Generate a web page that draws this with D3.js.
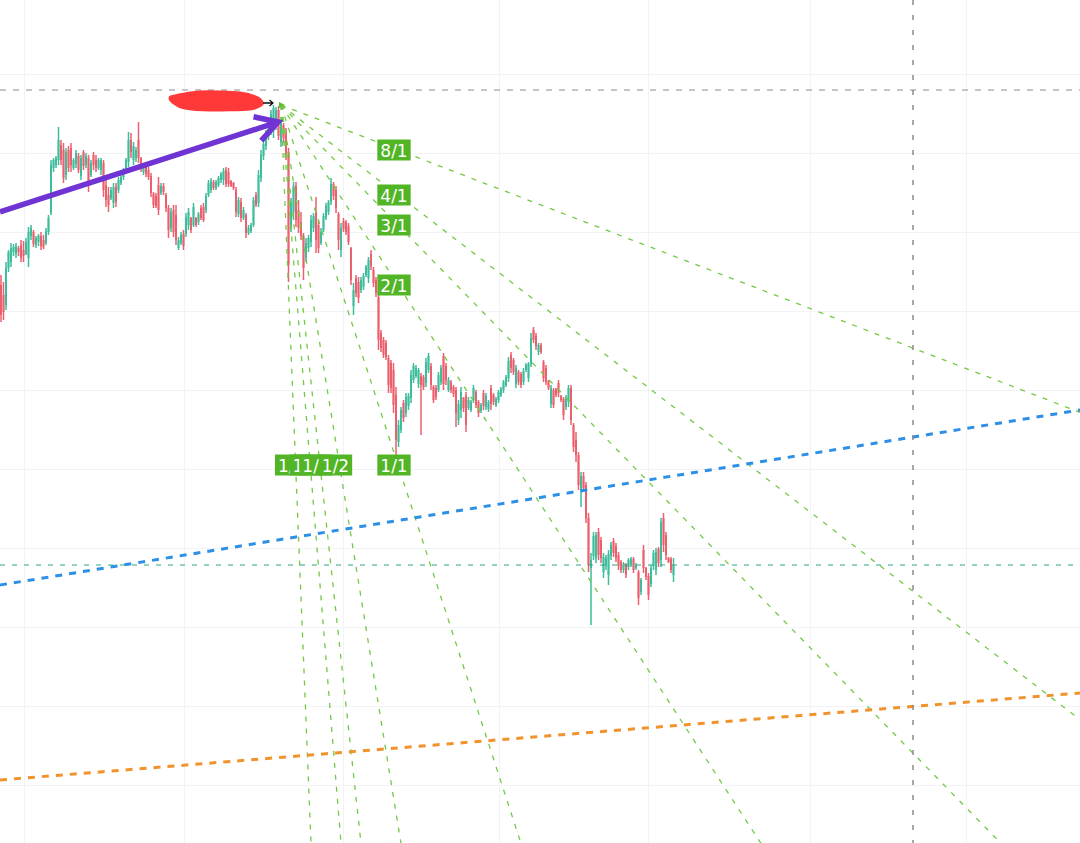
<!DOCTYPE html>
<html><head><meta charset="utf-8">
<script src="https://cdn.jsdelivr.net/npm/d3@7"></script>
<style>html,body{margin:0;padding:0;background:#fff;overflow:hidden}</style>
</head><body>
<svg id="chart" width="1080" height="843"></svg>
<script>
// ---- candle data (price units) ----
const opens = [715,705,695,732,738,748,746,752,755,750,746,742,764,768,755,758,764,760,757,768,
787,832,835,840,855,850,825,850,852,832,836,844,824,848,835,842,825,845,840,832,
830,837,815,805,802,797,813,810,817,823,832,838,860,840,842,860,842,828,833,830,
824,806,804,815,807,814,805,792,772,790,785,752,757,766,766,775,782,775,782,778,
792,793,790,805,810,818,812,815,820,820,830,828,819,817,810,786,798,782,785,767,
769,775,805,797,822,844,854,864,872,870,875,890,858,875,868,848,772,788,814,790,
778,764,742,752,758,772,788,775,757,770,782,788,798,816,810,786,750,779,778,774,
752,694,722,718,710,713,725,722,746,730,720,703,667,660,657,642,637,630,605,558,
570,597,587,594,602,620,624,616,624,623,617,630,634,613,612,610,618,644,634,610,
618,613,610,580,590,602,604,592,590,600,608,598,589,607,593,591,612,605,595,600,
605,610,615,622,645,640,616,628,626,618,630,622,636,670,664,648,655,638,632,619,
596,610,611,617,604,601,593,598,612,575,560,545,510,524,515,482,432,444,442,468,
460,428,434,425,444,459,454,445,438,430,435,433,435,441,432,428,408,450,432,424,
416,434,430,451,440,482,465,442,441,425];
const highs = [725,718,738,750,757,756,757,754,760,759,762,773,775,770,764,766,768,765,772,785,
840,842,844,873,860,857,852,854,857,842,850,847,845,850,847,845,840,848,845,842,
842,840,820,813,813,817,817,823,825,832,842,868,867,858,853,878,843,834,835,833,
827,808,807,823,817,817,807,795,792,795,795,763,768,770,787,792,783,797,783,788,
795,797,807,820,822,820,820,824,828,832,833,832,820,818,813,803,802,793,787,775,
777,803,808,830,850,860,870,882,890,895,893,894,883,877,872,852,802,818,818,800,
788,767,762,765,785,787,803,780,772,787,797,800,822,818,814,788,777,782,780,777,
753,717,725,723,723,727,735,743,750,733,723,705,670,663,660,645,640,637,613,580,
593,600,607,607,630,637,635,632,627,625,642,647,637,615,615,628,635,647,637,623,
620,615,613,600,613,603,608,603,600,615,610,600,597,610,607,600,615,607,603,610,
613,620,625,643,648,642,635,630,628,632,637,638,667,673,667,657,657,640,635,620,
615,612,612,620,605,603,605,615,615,577,568,548,528,528,518,487,447,468,468,472,
463,447,445,450,458,462,457,448,440,438,437,442,443,443,437,430,422,455,433,427,
435,450,452,453,482,487,468,443,443,442];
const lows = [678,680,690,728,733,744,742,744,738,738,745,733,760,753,752,754,750,751,755,765,
785,828,832,835,835,817,820,828,828,830,832,827,820,830,832,808,823,830,828,830,
825,803,793,788,800,792,793,807,815,820,830,833,842,835,838,837,828,825,823,820,
803,792,792,785,805,805,788,762,768,763,755,750,755,750,763,770,767,773,773,775,
780,778,787,803,807,810,810,813,817,815,813,813,813,810,783,783,778,780,762,765,
767,773,793,793,818,840,850,860,865,862,870,860,853,857,840,718,768,780,773,767,
760,720,738,748,753,768,747,747,755,768,780,785,795,800,787,750,743,768,765,755,
715,685,703,697,707,710,723,717,730,713,703,650,648,642,640,607,607,587,543,553,
567,578,583,590,597,617,622,612,565,610,613,627,610,597,600,608,615,610,615,608,
607,603,573,575,582,588,568,590,588,597,592,583,587,590,590,588,590,595,593,597,
603,607,613,618,627,625,612,615,612,615,628,618,633,657,650,645,646,618,615,610,
592,592,603,603,598,580,590,593,575,548,538,510,493,508,477,428,375,440,437,440,
437,422,430,415,440,443,438,430,427,427,422,430,433,427,430,395,405,427,420,400,
413,430,425,433,433,448,440,437,427,418];
const closes = [685,688,732,748,752,753,754,748,742,744,758,768,772,756,762,764,754,753,769,782,
835,840,842,860,840,822,848,832,835,840,847,830,842,834,844,815,837,835,832,840,
840,810,800,795,810,813,798,820,823,830,840,860,848,854,850,842,832,832,826,823,
807,795,794,790,814,808,792,770,788,768,760,760,765,754,783,788,770,793,775,786,
782,780,804,817,819,812,818,822,826,829,816,816,814,812,788,800,782,790,767,772,
775,800,795,825,845,856,866,878,886,892,890,864,878,862,845,735,798,814,780,772,
764,732,757,762,780,784,760,752,768,784,794,798,816,804,792,760,772,771,768,758,
720,710,707,702,720,724,733,740,734,717,707,660,652,645,643,615,612,595,560,575,
590,582,603,604,625,634,632,630,615,613,638,644,615,600,603,625,632,616,620,620,
610,606,587,596,608,592,575,600,598,612,595,587,595,594,604,598,596,598,601,608,
611,618,623,639,632,628,632,618,615,629,635,636,662,660,654,655,648,622,618,612,
612,595,605,607,600,585,602,612,580,553,545,515,524,512,482,435,440,464,465,445,
442,443,442,446,455,447,442,434,430,436,425,440,441,430,435,402,420,432,423,405,
432,447,448,437,478,455,445,438,430,435];

// ---- chart furniture (data coordinates: bar index / price) ----
const gridTimeIdx = [9.2, 73.2, 136.8, 199.2, 258.8, 323.6, 386];
const gridPrices = [926, 847, 768, 689, 610, 531, 452, 373, 294, 215];
const fanOrigin = {i: 112, p: 895};
const fanAnchor = {i: 158.8, p: 535};
const fanLabels = ["1/8", "1/4", "1/3", "1/2", "1/1", "2/1", "3/1", "4/1", "8/1"];
const blueLine = [{i: -0.4, p: 415}, {i: 431.6, p: 590}];
const orangeLine = [{i: -0.4, p: 220}, {i: 431.6, p: 307}];
const purpleArrow = [{i: -0.4, p: 788}, {i: 110.8, p: 878}];
const highLevel = 910;
const timeMarker = 364.8;
const scribble = [{i:68,p:903},{i:79.6,p:908},{i:95.6,p:907},{i:102.8,p:902},{i:104.4,p:896},
                  {i:99.6,p:891},{i:83.6,p:890},{i:73.6,p:892},{i:69.2,p:897}];
const smallArrow = [{i: 104.8, p: 897}, {i: 108.8, p: 897}];

const W = 1080, H = 843;
const x = d3.scaleLinear().domain([0, 431.6]).range([1, 1080]);
const y = d3.scaleLinear().domain([157, 1000]).range([843, 0]);

const svg = d3.select("#chart");
svg.append("defs").append("clipPath").attr("id", "clip")
  .append("rect").attr("width", W).attr("height", H);
const g = svg.append("g").attr("clip-path", "url(#clip)");

// grid
g.append("g").selectAll("line").data(gridTimeIdx).join("line")
  .attr("x1", d => Math.round(x(d)) + 0.5).attr("x2", d => Math.round(x(d)) + 0.5)
  .attr("y1", 0).attr("y2", H).attr("stroke", "#f2f3f6").attr("stroke-width", 1);
g.append("g").selectAll("line").data(gridPrices).join("line")
  .attr("y1", d => Math.round(y(d)) + 0.5).attr("y2", d => Math.round(y(d)) + 0.5)
  .attr("x1", 0).attr("x2", W).attr("stroke", "#f2f3f6").attr("stroke-width", 1);

// candles
const upC = "#3dbd9b", dnC = "#ec5f6c";
const candles = opens.map((o, i) => ({i, o, h: highs[i], l: lows[i], c: closes[i]}));
const cg = g.append("g");
cg.selectAll("line").data(candles).join("line")
  .attr("x1", d => x(d.i)).attr("x2", d => x(d.i))
  .attr("y1", d => y(d.h)).attr("y2", d => y(d.l))
  .attr("stroke", d => d.c >= d.o ? upC : dnC).attr("stroke-width", 1.5);
cg.selectAll("rect").data(candles).join("rect")
  .attr("x", d => x(d.i) - 1).attr("width", 2)
  .attr("y", d => y(Math.max(d.o, d.c)))
  .attr("height", d => Math.max(1, Math.abs(y(d.o) - y(d.c))))
  .attr("fill", d => d.c >= d.o ? upC : dnC);

// gann fan
function fanPoint(lbl) {
  const [a, b] = lbl.split("/").map(Number);
  const dI = fanAnchor.i - fanOrigin.i, dP = fanAnchor.p - fanOrigin.p;
  if (a >= b) return {i: fanOrigin.i + dI, p: fanOrigin.p + dP * b / a};
  return {i: fanOrigin.i + dI * a / b, p: fanOrigin.p + dP};
}
const fanG = g.append("g");
fanLabels.forEach(lbl => {
  const pt = fanPoint(lbl);
  const k = 40;
  fanG.append("line")
    .attr("x1", x(fanOrigin.i)).attr("y1", y(fanOrigin.p))
    .attr("x2", x(fanOrigin.i + (pt.i - fanOrigin.i) * k))
    .attr("y2", y(fanOrigin.p + (pt.p - fanOrigin.p) * k))
    .attr("stroke", "#72c945").attr("stroke-width", 1.3)
    .attr("stroke-dasharray", "5,7");
});

// trend lines
const lineGen = d3.line().x(d => x(d.i)).y(d => y(d.p));
g.append("path").datum(blueLine).attr("d", lineGen).attr("fill", "none")
  .attr("stroke", "#2d8fe5").attr("stroke-width", 3).attr("stroke-dasharray", "7,7");
g.append("path").datum(orangeLine).attr("d", lineGen).attr("fill", "none")
  .attr("stroke", "#f0932b").attr("stroke-width", 3).attr("stroke-dasharray", "7,7");

// last price line
g.append("line").attr("x1", 0).attr("x2", W)
  .attr("y1", y(closes[closes.length - 1])).attr("y2", y(closes[closes.length - 1]))
  .attr("stroke", "#2aa588").attr("stroke-width", 1.1).attr("stroke-dasharray", "5,7");

// dashed gray marker lines
g.append("line").attr("x1", 0).attr("x2", W).attr("y1", y(highLevel)).attr("y2", y(highLevel))
  .attr("stroke", "#8c8c8c").attr("stroke-width", 1.2).attr("stroke-dasharray", "6,7");
g.append("line").attr("x1", x(timeMarker)).attr("x2", x(timeMarker)).attr("y1", 0).attr("y2", H)
  .attr("stroke", "#8c8c8c").attr("stroke-width", 1.5).attr("stroke-dasharray", "5,10");

// fan labels (drawn so that 1/2 lies over 1/3, 1/4, 1/8, as in the reference)
const labG = g.append("g");
fanLabels.forEach(lbl => {
  const pt = fanPoint(lbl);
  const cx = x(pt.i) - 4, cy = y(pt.p);
  const gg = labG.append("g");
  const rect = gg.append("rect").attr("fill", "#52b526");
  const t = gg.append("text").attr("x", cx).attr("y", cy + 0.5)
    .attr("text-anchor", "middle").attr("dominant-baseline", "central")
    .attr("font-family", "DejaVu Sans, sans-serif").attr("font-size", 17)
    .attr("fill", "#ffffff").text(lbl);
  const w = t.node().getComputedTextLength() + 6;
  rect.attr("x", cx - w / 2).attr("y", cy - 10.5).attr("width", w).attr("height", 21);
});

// green flag at the fan origin
const ox = x(fanOrigin.i), oy = y(fanOrigin.p);
g.append("path").attr("d", `M${ox - 2},${oy - 3}L${ox + 4},${oy}L${ox - 2},${oy + 3}Z`)
  .attr("fill", "#5cbf2f");

// red scribble
g.append("path").datum(scribble)
  .attr("d", d3.line().x(d => x(d.i)).y(d => y(d.p)).curve(d3.curveCardinalClosed.tension(0.3)))
  .attr("fill", "#ff3838").attr("stroke", "#ff3838").attr("stroke-width", 3)
  .attr("stroke-linejoin", "round");

// small black arrow
const sa0 = {x: x(smallArrow[0].i), y: y(smallArrow[0].p)}, sa1 = {x: x(smallArrow[1].i), y: y(smallArrow[1].p)};
g.append("path").attr("d", `M${sa0.x},${sa0.y}L${sa1.x},${sa1.y}M${sa1.x - 3.5},${sa1.y - 3}L${sa1.x},${sa1.y}L${sa1.x - 3.5},${sa1.y + 3}`)
  .attr("fill", "none").attr("stroke", "#111").attr("stroke-width", 1.3);

// purple arrow
const pa0 = {x: x(purpleArrow[0].i), y: y(purpleArrow[0].p)}, pa1 = {x: x(purpleArrow[1].i), y: y(purpleArrow[1].p)};
const ang = Math.atan2(pa0.y - pa1.y, pa0.x - pa1.x);
const L = 25, sp = Math.PI / 6;
const h1 = {x: pa1.x + L * Math.cos(ang - sp), y: pa1.y + L * Math.sin(ang - sp)};
const h2 = {x: pa1.x + L * Math.cos(ang + sp), y: pa1.y + L * Math.sin(ang + sp)};
g.append("path")
  .attr("d", `M${pa0.x},${pa0.y}L${pa1.x},${pa1.y}M${h1.x},${h1.y}L${pa1.x},${pa1.y}L${h2.x},${h2.y}`)
  .attr("fill", "none").attr("stroke", "#6f34d3").attr("stroke-width", 5.5)
  .attr("stroke-linecap", "butt").attr("stroke-linejoin", "miter");
</script>
</body></html>
